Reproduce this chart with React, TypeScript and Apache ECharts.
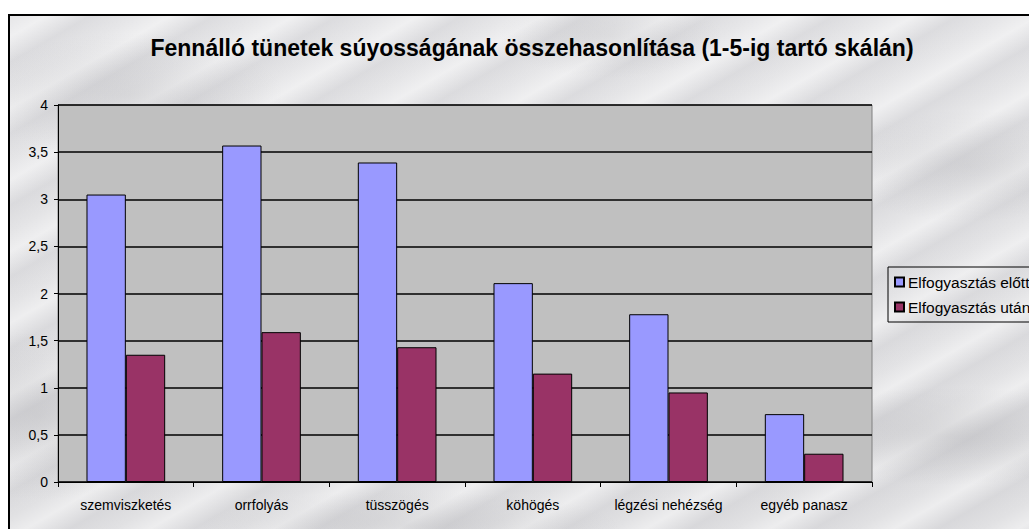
import React, { useEffect, useRef } from "react";
import * as echarts from "echarts";

const categories = ["szemviszketés", "orrfolyás", "tüsszögés", "köhögés", "légzési nehézség", "egyéb panasz"];
const seriesNames = ["Elfogyasztás előtt", "Elfogyasztás után"];
const beforeValues = [3.05, 3.57, 3.39, 2.11, 1.78, 0.72];
const afterValues = [1.35, 1.59, 1.43, 1.15, 0.95, 0.3];
const titleText = "Fennálló tünetek súyosságának összehasonlítása (1-5-ig tartó skálán)";
const yMin = 0;
const yMax = 4;
const yStep = 0.5;

const FONT = "'Liberation Sans', Arial, sans-serif";

export default function App() {
  const ref = useRef<HTMLDivElement>(null);
  useEffect(() => {
    if (!ref.current) return;
    const chart = echarts.init(ref.current, undefined, { renderer: "svg" });
    chart.setOption({
      animation: false,
      backgroundColor: "transparent",
      textStyle: { fontFamily: FONT },
      title: {
        text: titleText,
        left: 517,
        top: 15,
        textAlign: "center",
        textStyle: { fontFamily: FONT, fontSize: 23, fontWeight: "bold", color: "#000" },
      },
      legend: {
        orient: "vertical",
        left: 878,
        top: 251,
        data: seriesNames,
        icon: "rect",
        itemWidth: 9,
        itemHeight: 9,
        itemGap: 9,
        padding: [7, 6, 7, 6],
        borderColor: "#000",
        borderWidth: 1,
        textStyle: { fontFamily: FONT, fontSize: 15.5, color: "#000", padding: [0, 0, 0, -1] },
      },
      grid: { left: 48, top: 89, width: 814, height: 377, show: true, backgroundColor: "#C0C0C0", borderColor: "#808080", borderWidth: 1 },
      xAxis: {
        type: "category",
        data: categories,
        axisLine: { lineStyle: { color: "#000", width: 1 } },
        axisTick: { show: true, alignWithLabel: false, length: 5, lineStyle: { color: "#000" } },
        axisLabel: { fontFamily: FONT, fontSize: 14, color: "#000", margin: 16, interval: 0 },
      },
      yAxis: {
        type: "value",
        min: yMin,
        max: yMax,
        interval: yStep,
        axisLine: { show: true, lineStyle: { color: "#000", width: 1 } },
        axisTick: { show: true, length: 4, lineStyle: { color: "#000" } },
        axisLabel: {
          fontFamily: FONT,
          fontSize: 14,
          color: "#000",
          margin: 10,
          formatter: (v: number) => String(v).replace(".", ","),
        },
        splitLine: { show: true, lineStyle: { color: "#000", width: 1.5 } },
      },
      series: [
        {
          name: seriesNames[0],
          type: "bar",
          data: beforeValues,
          barGap: "0%",
          barCategoryGap: "42%",
          itemStyle: { color: "#9999FF", borderColor: "#000", borderWidth: 1 },
        },
        {
          name: seriesNames[1],
          type: "bar",
          data: afterValues,
          itemStyle: { color: "#993366", borderColor: "#000", borderWidth: 1 },
        },
      ],
    });
    return () => chart.dispose();
  }, []);

  const marble =
    "radial-gradient(ellipse 220px 90px at 120px 80px, rgba(150,150,155,0.2), transparent 70%)," +
    "radial-gradient(ellipse 260px 70px at 940px 420px, rgba(140,140,145,0.22), transparent 70%)," +
    "radial-gradient(ellipse 200px 80px at 960px 150px, rgba(150,150,155,0.18), transparent 70%)," +
    "radial-gradient(ellipse 300px 50px at 400px 510px, rgba(150,150,155,0.2), transparent 70%)," +
    "radial-gradient(ellipse 180px 120px at 30px 400px, rgba(150,150,155,0.22), transparent 70%)," +
    "radial-gradient(ellipse 160px 60px at 600px 20px, rgba(150,150,155,0.16), transparent 70%)," +
    "repeating-linear-gradient(150deg, rgba(255,255,255,0.0) 0px, rgba(255,255,255,0.4) 18px, rgba(190,190,195,0.25) 40px, rgba(255,255,255,0) 62px)," +
    "linear-gradient(#e6e6e8, #e0e0e2)";

  return (
    <div
      style={{
        position: "fixed",
        left: 8,
        top: 14,
        width: 1100,
        height: 600,
        border: "2px solid #000",
        background: marble,
      }}
    >
      <div ref={ref} style={{ width: 1096, height: 596 }} />
    </div>
  );
}
